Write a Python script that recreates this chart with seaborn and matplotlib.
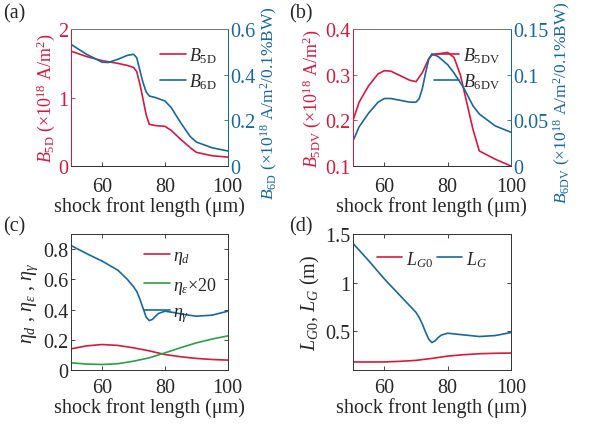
import matplotlib
matplotlib.use("Agg")
import matplotlib.pyplot as plt
import seaborn as sns
import pandas as pd

sns.set_theme(style="ticks")
plt.rcParams["font.family"] = "serif"
plt.rcParams["font.serif"] = ["Liberation Serif", "DejaVu Serif"]
plt.rcParams["mathtext.fontset"] = "custom"
plt.rcParams["mathtext.rm"] = "Liberation Serif"
plt.rcParams["mathtext.it"] = "Liberation Serif:italic"
plt.rcParams["mathtext.bf"] = "Liberation Serif:bold"
plt.rcParams["xtick.direction"] = "in"
plt.rcParams["ytick.direction"] = "in"

RED = "#D7193F"
BLUE = "#17689E"
GREEN = "#2AA044"

# ---- data ----
x_b5d = [50, 55, 60, 65, 68, 70, 71, 72, 73, 74, 75, 77, 80, 82, 85, 88, 90, 95, 100]
b5d = [1.68, 1.60, 1.54, 1.50, 1.47, 1.44, 1.38, 1.20, 0.98, 0.75, 0.61, 0.59, 0.58, 0.52, 0.39, 0.27, 0.20, 0.15, 0.13]
x_b6d = [50, 55, 60, 62, 65, 68, 70, 71, 72, 73, 74, 75, 77, 80, 82, 85, 88, 90, 95, 100]
b6d = [0.534, 0.49, 0.455, 0.454, 0.468, 0.485, 0.49, 0.475, 0.42, 0.366, 0.325, 0.307, 0.30, 0.285, 0.256, 0.19, 0.13, 0.105, 0.08, 0.066]

x_b5dv = [50, 52, 55, 58, 60, 62, 65, 68, 70, 72, 74, 75, 78, 80, 82, 84, 86, 88, 90, 95, 100]
b5dv = [0.199, 0.24, 0.276, 0.302, 0.309, 0.308, 0.298, 0.288, 0.285, 0.305, 0.335, 0.343, 0.347, 0.349, 0.338, 0.30, 0.24, 0.18, 0.133, 0.115, 0.10]
x_b6dv = [50, 52, 55, 58, 60, 62, 65, 68, 70, 71, 72, 73, 74, 75, 77, 80, 82, 85, 88, 90, 95, 100]
b6dv = [0.027, 0.043, 0.058, 0.070, 0.074, 0.074, 0.072, 0.070, 0.070, 0.074, 0.085, 0.102, 0.117, 0.123, 0.120, 0.111, 0.102, 0.086, 0.066, 0.057, 0.044, 0.037]

x_eta_g = [50, 55, 60, 65, 68, 70, 71, 72, 73, 74, 75, 76, 77, 78, 80, 83, 85, 90, 95, 100]
eta_g = [0.824, 0.77, 0.72, 0.66, 0.60, 0.55, 0.52, 0.47, 0.41, 0.35, 0.327, 0.335, 0.356, 0.375, 0.389, 0.38, 0.371, 0.356, 0.363, 0.389]
x_eta = [50, 55, 60, 65, 70, 75, 80, 85, 90, 95, 100]
eta_d = [0.14, 0.16, 0.169, 0.163, 0.147, 0.127, 0.103, 0.088, 0.077, 0.07, 0.066]
eta_e20 = [0.048, 0.040, 0.037, 0.042, 0.059, 0.081, 0.114, 0.148, 0.18, 0.205, 0.226]

x_lg = [50, 55, 60, 65, 70, 71, 72, 73, 74, 75, 76, 77, 78, 80, 85, 90, 95, 100]
l_g = [1.404, 1.225, 1.036, 0.864, 0.692, 0.64, 0.572, 0.49, 0.418, 0.383, 0.40, 0.435, 0.46, 0.479, 0.462, 0.445, 0.455, 0.486]
x_lg0 = [50, 55, 60, 65, 70, 75, 80, 85, 90, 95, 100]
l_g0 = [0.184, 0.183, 0.184, 0.19, 0.2, 0.22, 0.244, 0.258, 0.268, 0.273, 0.275]

FS = 14.5
LFS = 13
RFS = 12.5
XLAB = "shock front length (μm)"

fig = plt.figure(figsize=(5.9, 4.31), dpi=100)
axa = fig.add_axes([0.120, 0.6125, 0.266, 0.3175])
axb = fig.add_axes([0.598, 0.6125, 0.268, 0.3175])
axc = fig.add_axes([0.120, 0.139, 0.266, 0.316])
axd = fig.add_axes([0.598, 0.139, 0.268, 0.316])


def style_x(ax, pad=6):
    ax.set_xlim(50, 100)
    ax.set_xticks([60, 80, 100])
    ax.tick_params(axis="x", labelsize=FS, length=3, width=0.6, pad=pad)
    ax.set_xlabel(XLAB, fontsize=FS, labelpad=0)


def dual(ax, xl, yl, xr, yr, llim, rlim, lticks, rticks, lticklabels, rticklabels, lname, rname, llab, rlab):
    axr = ax.twinx()
    sns.lineplot(x=xl, y=yl, ax=ax, color=RED, lw=1.2, label=lname, legend=False)
    sns.lineplot(x=xr, y=yr, ax=axr, color=BLUE, lw=1.2, label=rname, legend=False)
    style_x(ax, pad=8)
    ax.set_ylim(*llim)
    axr.set_ylim(*rlim)
    ax.set_yticks(lticks)
    ax.set_yticklabels(lticklabels)
    axr.set_yticks(rticks)
    axr.set_yticklabels(rticklabels)
    ax.tick_params(axis="y", colors=RED, labelsize=FS, length=3, width=0.6, pad=2)
    axr.tick_params(axis="y", colors=BLUE, labelsize=FS, length=3, width=0.6, pad=2)
    ax.set_ylabel(llab, color=RED, fontsize=LFS, labelpad=1)
    axr.set_ylabel(rlab, color=BLUE, fontsize=RFS, labelpad=2)
    axr.yaxis.label.set_y(0.47)
    for a in (ax, axr):
        a.spines["left"].set_color(RED)
        a.spines["right"].set_color(BLUE)
        a.spines["top"].set_color("#777777")
        a.spines["bottom"].set_color("#333333")
        for s in a.spines.values():
            s.set_linewidth(0.7)
    h1, l1 = ax.get_legend_handles_labels()
    h2, l2 = axr.get_legend_handles_labels()
    axr.legend(h1 + h2, l1 + l2, loc="upper right", frameon=False, fontsize=LFS,
               handlelength=1.4, handletextpad=0.2, labelspacing=0.35,
               borderaxespad=0.2, bbox_to_anchor=(1.0, 0.96))
    return axr


dual(axa, x_b5d, b5d, x_b6d, b6d, (0, 2), (0, 0.6), [0, 1, 2], [0, 0.2, 0.4, 0.6],
     ["0", "1", "2"], ["0", "0.2", "0.4", "0.6"],
     r"$B_{\mathrm{5D}}$", r"$B_{\mathrm{6D}}$",
     r"$B_{\mathrm{5D}}$ (×10$^{18}$ A/m$^2$)",
     r"$B_{\mathrm{6D}}$ (×10$^{18}$ A/m$^2$/0.1%BW)")

dual(axb, x_b5dv, b5dv, x_b6dv, b6dv, (0.1, 0.4), (0, 0.15), [0.1, 0.2, 0.3, 0.4], [0, 0.05, 0.1, 0.15],
     ["0.1", "0.2", "0.3", "0.4"], ["0", "0.05", "0.1", "0.15"],
     r"$B_{\mathrm{5DV}}$", r"$B_{\mathrm{6DV}}$",
     r"$B_{\mathrm{5DV}}$ (×10$^{18}$ A/m$^2$)",
     r"$B_{\mathrm{6DV}}$ (×10$^{18}$ A/m$^2$/0.1%BW)")

# (c)
sns.lineplot(x=x_eta, y=eta_d, ax=axc, color=RED, lw=1.2, label=r"$\eta_d$")
sns.lineplot(x=x_eta, y=eta_e20, ax=axc, color=GREEN, lw=1.2, label=r"$\eta_\varepsilon$×20")
sns.lineplot(x=x_eta_g, y=eta_g, ax=axc, color=BLUE, lw=1.2, label=r"$\eta_\gamma$")
style_x(axc)
axc.set_ylim(0, 0.9)
axc.set_yticks([0, 0.2, 0.4, 0.6, 0.8])
axc.set_yticklabels(["0", "0.2", "0.4", "0.6", "0.8"])
axc.tick_params(axis="y", labelsize=FS, length=3, width=0.6, pad=2)
axc.tick_params(top=True, right=True)
axc.set_ylabel(r"$\eta_d$ , $\eta_\varepsilon$ , $\eta_\gamma$", fontsize=FS, labelpad=2)
axc.legend(loc="upper right", frameon=False, fontsize=LFS, handlelength=1.4,
           handletextpad=0.2, labelspacing=0.45, borderaxespad=0.2, bbox_to_anchor=(1.0, 0.98))

# (d)
sns.lineplot(x=x_lg0, y=l_g0, ax=axd, color=RED, lw=1.2, label=r"$L_{G0}$")
sns.lineplot(x=x_lg, y=l_g, ax=axd, color=BLUE, lw=1.2, label=r"$L_G$")
style_x(axd)
axd.set_ylim(0.1, 1.5)
axd.set_yticks([0.5, 1, 1.5])
axd.set_yticklabels(["0.5", "1", "1.5"])
axd.tick_params(axis="y", labelsize=FS, length=3, width=0.6, pad=2)
axd.tick_params(top=True, right=True)
axd.set_ylabel(r"$L_{G0}$, $L_G$ (m)", fontsize=FS, labelpad=2)
axd.legend(loc="upper center", ncol=2, frameon=False, fontsize=LFS, handlelength=1.4,
           handletextpad=0.2, columnspacing=0.2, borderaxespad=0.2, bbox_to_anchor=(0.5, 0.97))

for ax in (axc, axd):
    for s in ax.spines.values():
        s.set_linewidth(0.7)
        s.set_color("#333333")

for txt, x, y in [("(a)", 0.005, 0.99), ("(b)", 0.49, 0.99), ("(c)", 0.005, 0.495), ("(d)", 0.49, 0.495)]:
    fig.text(x, y, txt, fontsize=FS, ha="left", va="top")

fig.savefig("out.png", dpi=100)
